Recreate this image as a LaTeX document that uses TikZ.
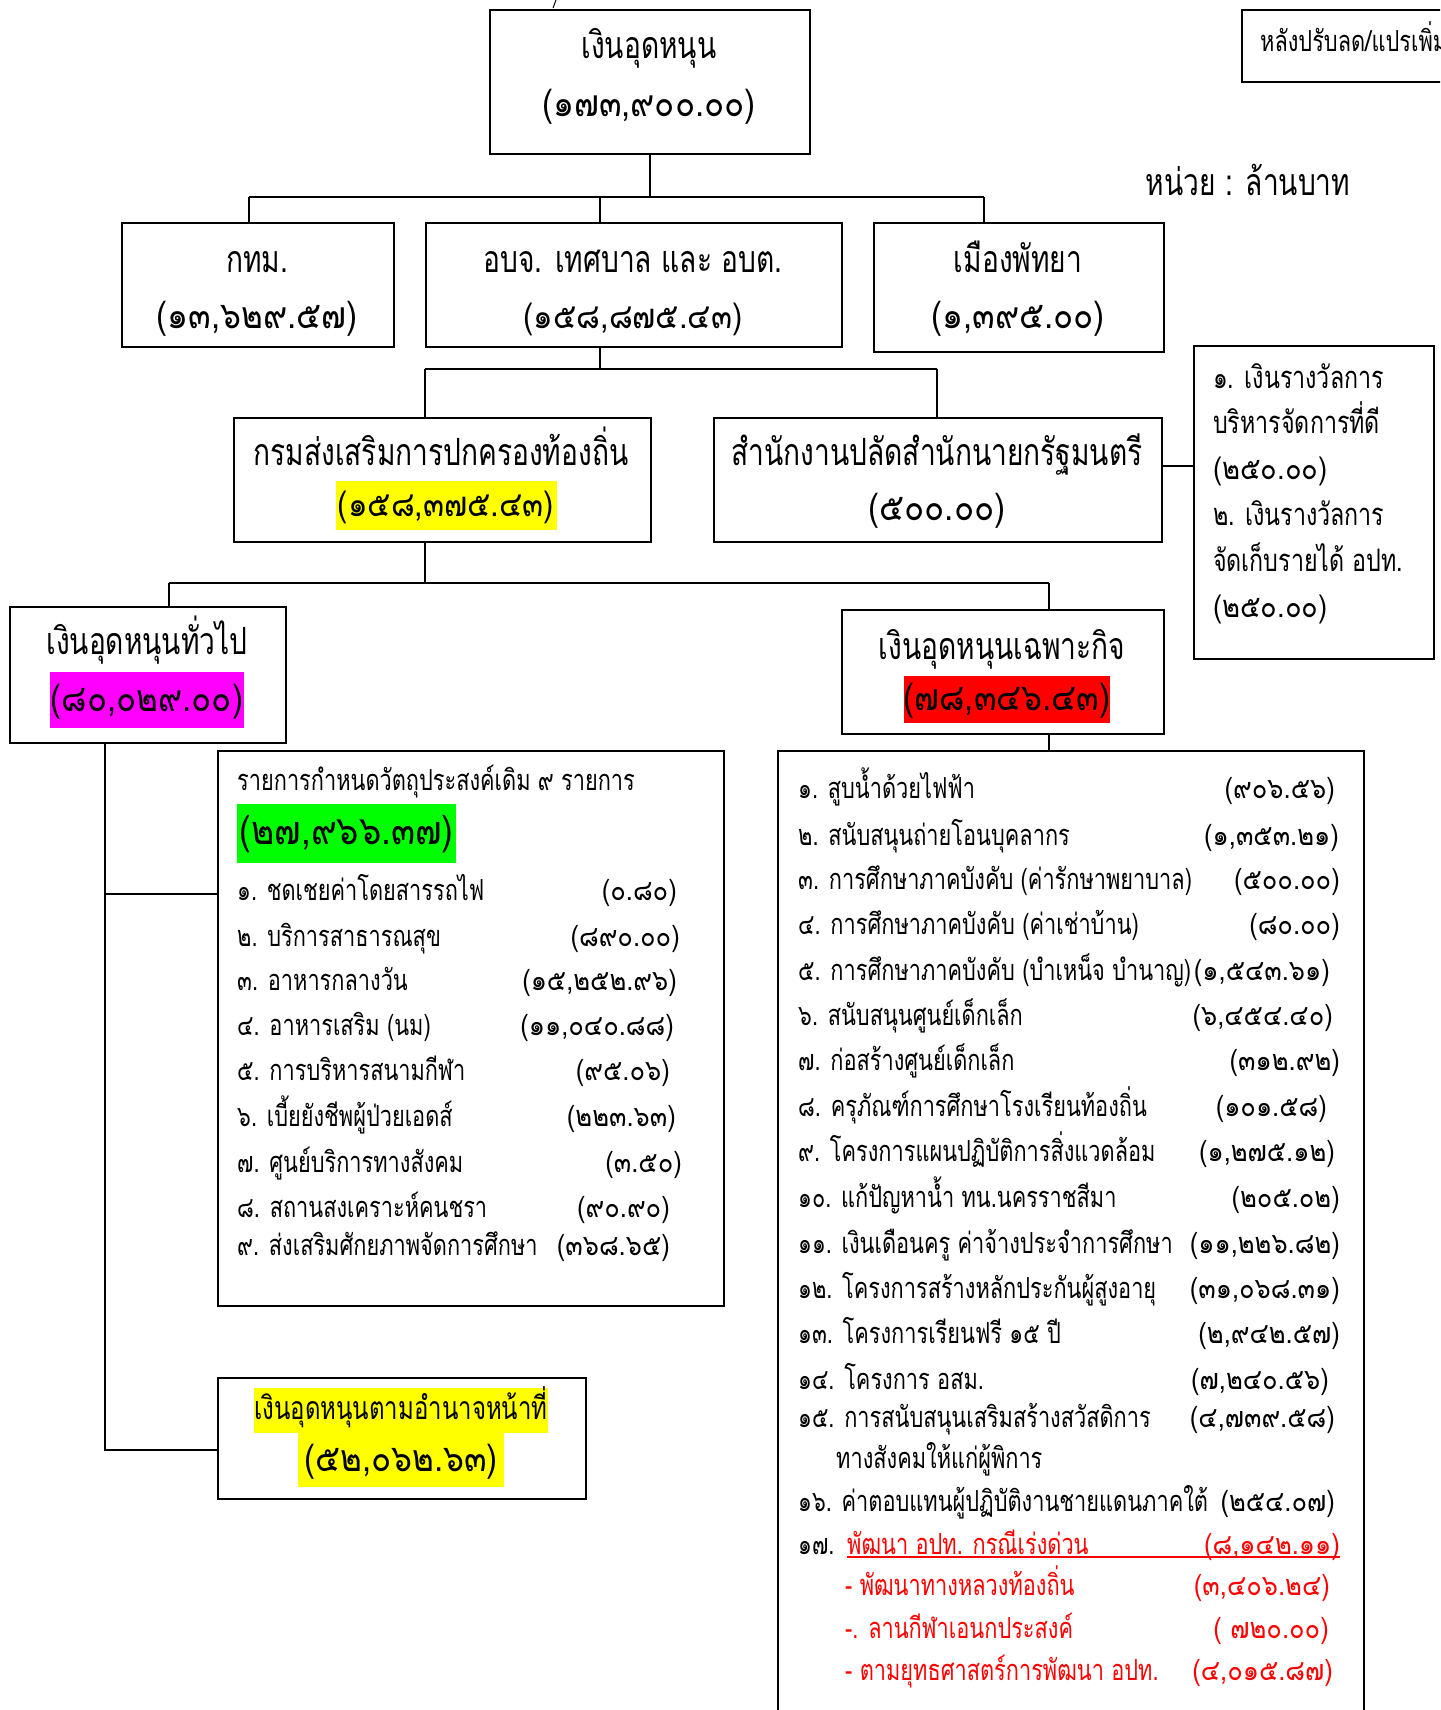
\documentclass[tikz,border=0pt]{standalone}
\usepackage{fontspec}
\newfontfamily\thai[Script=Thai,FakeStretch=0.75]{Loma}
\newfontfamily\thainum[Script=Thai,FakeStretch=0.88]{Loma}
\definecolor{hlyellow}{HTML}{FFFF00}
\definecolor{hlmagenta}{HTML}{FF00FF}
\definecolor{hlgreen}{HTML}{00FF00}
\definecolor{hlred}{HTML}{FF0000}
\definecolor{txtred}{HTML}{FF0000}
\begin{document}
\begin{tikzpicture}[x=1pt,y=-1pt,
  box/.style={draw, line width=1.8pt, inner sep=0pt, anchor=north west},
  hd/.style={font=\thai\fontsize{37.5}{42}\selectfont, inner sep=0pt, text height=22pt, text depth=0pt},
  hn/.style={font=\thainum\fontsize{37.5}{42}\selectfont, inner sep=0pt, text height=22pt, text depth=0pt},
  it/.style={font=\thai\fontsize{29}{32}\selectfont, inner sep=0pt, text height=19pt, text depth=0pt},
  inum/.style={font=\thainum\fontsize{29}{32}\selectfont, inner sep=0pt, text height=19pt, text depth=0pt},
  itl/.style={it, anchor=west},
  itr/.style={inum, anchor=east},
  sdl/.style={it, anchor=west, font=\thai\fontsize{31}{34}\selectfont},
  sdn/.style={inum, anchor=west, font=\thainum\fontsize{31}{34}\selectfont},
  rd/.style={text=txtred},
  ln/.style={line width=1.6pt},
]
\useasboundingbox (0,0) rectangle (1440,1710);
\clip (0,0) rectangle (1440,1710);

% ---------- boxes ----------
\node[box, minimum width=320, minimum height=144] (top) at (489,9) {};
\node[box, minimum width=229, minimum height=72] (tr) at (1241,9) {};
\node[box, minimum width=272, minimum height=124] (kt) at (121,222) {};
\node[box, minimum width=416, minimum height=124] (ob) at (425,222) {};
\node[box, minimum width=290, minimum height=129] (mp) at (873,222) {};
\node[box, minimum width=417, minimum height=124] (dl) at (233,417) {};
\node[box, minimum width=448, minimum height=124] (op) at (713,417) {};
\node[box, minimum width=240, minimum height=313] (sd) at (1193,345) {};
\node[box, minimum width=276, minimum height=136] (gg) at (9,606) {};
\node[box, minimum width=322, minimum height=124] (sp) at (841,609) {};
\node[box, minimum width=506, minimum height=555] (lb) at (217,750) {};
\node[box, minimum width=368, minimum height=121] (am) at (217,1377) {};
\node[box, minimum width=586, minimum height=1010] (rb) at (777,750) {};

% ---------- connectors ----------
\coordinate (tick) at (553,8);
\coordinate (tick0) at (556,0);
\draw[line width=1pt] (tick0) -- (tick);

\coordinate (h1L) at (249,197);
\coordinate (h1M) at (600,197);
\coordinate (h1R) at (984,197);
\draw[ln] (top.south) -- (top.south |- h1L);
\draw[ln] (h1L) -- (h1R);
\draw[ln] (h1L) -- (h1L |- kt.north);
\draw[ln] (h1M) -- (h1M |- ob.north);
\draw[ln] (h1R) -- (h1R |- mp.north);

\coordinate (h2L) at (425,369);
\coordinate (h2M) at (600,369);
\coordinate (h2R) at (937,369);
\draw[ln] (h2M |- ob.south) -- (h2M);
\draw[ln] (h2L) -- (h2R);
\draw[ln] (h2L) -- (h2L |- dl.north);
\draw[ln] (h2R) -- (h2R |- op.north);

\coordinate (c3) at (1177,466);
\draw[ln] (c3 -| op.east) -- (c3 -| sd.west);

\coordinate (h4L) at (169,583);
\coordinate (h4M) at (425,583);
\coordinate (h4R) at (1049,583);
\draw[ln] (h4M |- dl.south) -- (h4M);
\draw[ln] (h4L) -- (h4R);
\draw[ln] (h4L) -- (h4L |- gg.north);
\draw[ln] (h4R) -- (h4R |- sp.north);

\coordinate (b1) at (105,894);
\coordinate (b2) at (105,1450);
\draw[ln] (b1 |- gg.south) -- (b2) -- (b2 -| am.west);
\draw[ln] (b1) -- (b1 -| lb.west);

\coordinate (c6) at (1049,740);
\draw[ln] (c6 |- sp.south) -- (c6 |- rb.north);

% ---------- texts: upper part ----------
\node[hd] (t1a) at (649,48) {เงินอุดหนุน};
\node[hn] (t1b) at (649,105) {(๑๗๓,๙๐๐.๐๐)};
\node[itl] (tra) at (1260,42) {หลังปรับลด/แปรเพิ่ม};
\node[hd] (unit) at (1248,184) {หน่วย : ล้านบาท};

\node[hd] (kta) at (257,261) {กทม.};
\node[hn] (ktb) at (257,317) {(๑๓,๖๒๙.๕๗)};
\node[hd] (oba) at (633,261) {อบจ. เทศบาล และ อบต.};
\node[hn, font=\thainum\fontsize{35}{40}\selectfont] (obb) at (633,317) {(๑๕๘,๘๗๕.๔๓)};
\node[hd] (mpa) at (1018,261) {เมืองพัทยา};
\node[hn] (mpb) at (1018,317) {(๑,๓๙๕.๐๐)};

\node[hd] (dla) at (441,454) {กรมส่งเสริมการปกครองท้องถิ่น};
\node[hn, font=\thainum\fontsize{35}{40}\selectfont, fill=hlyellow, minimum width=221, minimum height=49] (dlb) at (446,505) {(๑๕๘,๓๗๕.๔๓)};
\node[hd] (opa) at (937,454) {สำนักงานปลัดสำนักนายกรัฐมนตรี};
\node[hn] (opb) at (937,509) {(๕๐๐.๐๐)};

\node[sdl] (sd1) at (1213,379) {๑. เงินรางวัลการ};
\node[sdl] (sd2) at (1213,424) {บริหารจัดการที่ดี};
\node[sdn] (sd3) at (1213,470) {(๒๕๐.๐๐)};
\node[sdl] (sd4) at (1213,516) {๒. เงินรางวัลการ};
\node[sdl] (sd5) at (1213,562) {จัดเก็บรายได้ อปท.};
\node[sdn] (sd6) at (1213,608) {(๒๕๐.๐๐)};

\node[hd] (gga) at (147,643) {เงินอุดหนุนทั่วไป};
\node[hn, fill=hlmagenta, minimum width=194, minimum height=56] (ggb) at (147,700) {(๘๐,๐๒๙.๐๐)};
\node[hd] (spa) at (1002,648) {เงินอุดหนุนเฉพาะกิจ};
\node[hn, fill=hlred, minimum width=200, minimum height=47] (spb) at (1007,699) {(๗๘,๓๔๖.๔๓)};

% ---------- left list ----------
\node[itl] (lbh) at (237,781) {รายการกำหนดวัตถุประสงค์เดิม ๙ รายการ};
\node[hn, font=\thainum\fontsize{40}{44}\selectfont, fill=hlgreen, anchor=west, minimum width=219, minimum height=59] (lbg) at (237,833) {(๒๗,๙๖๖.๓๗)};
\node[itl] (l1) at (237,891) {๑. ชดเชยค่าโดยสารรถไฟ};
\node[itr] (l1v) at (677,891) {(๐.๘๐)};
\node[itl] (l2) at (237,937) {๒. บริการสาธารณสุข};
\node[itr] (l2v) at (680,937) {(๘๙๐.๐๐)};
\node[itl] (l3) at (237,981) {๓. อาหารกลางวัน};
\node[itr] (l3v) at (677,981) {(๑๕,๒๕๒.๙๖)};
\node[itl] (l4) at (237,1026) {๔. อาหารเสริม (นม)};
\node[itr] (l4v) at (674,1026) {(๑๑,๐๔๐.๘๘)};
\node[itl] (l5) at (237,1071) {๕. การบริหารสนามกีฬา};
\node[itr] (l5v) at (670,1071) {(๙๕.๐๖)};
\node[itl] (l6) at (237,1117) {๖. เบี้ยยังชีพผู้ป่วยเอดส์};
\node[itr] (l6v) at (676,1117) {(๒๒๓.๖๓)};
\node[itl] (l7) at (237,1163) {๗. ศูนย์บริการทางสังคม};
\node[itr] (l7v) at (682,1163) {(๓.๕๐)};
\node[itl] (l8) at (237,1208) {๘. สถานสงเคราะห์คนชรา};
\node[itr] (l8v) at (670,1208) {(๙๐.๙๐)};
\node[itl] (l9) at (237,1246) {๙. ส่งเสริมศักยภาพจัดการศึกษา};
\node[itr] (l9v) at (670,1246) {(๓๖๘.๖๕)};

\node[hd, fill=hlyellow, minimum width=290, minimum height=45, font=\thai\fontsize{32}{36}\selectfont, text height=19pt] (ama) at (401,1410) {เงินอุดหนุนตามอำนาจหน้าที่};
\node[hn, fill=hlyellow, minimum width=206, minimum height=54] (amb) at (401,1460) {(๕๒,๐๖๒.๖๓)};

% ---------- right list ----------
\node[itl] (r1) at (798,789) {๑. สูบน้ำด้วยไฟฟ้า};
\node[itr] (r1v) at (1335,789) {(๙๐๖.๕๖)};
\node[itl] (r2) at (798,836) {๒. สนับสนุนถ่ายโอนบุคลากร};
\node[itr] (r2v) at (1339,836) {(๑,๓๕๓.๒๑)};
\node[itl] (r3) at (798,880) {๓. การศึกษาภาคบังคับ (ค่ารักษาพยาบาล)};
\node[itr] (r3v) at (1340,880) {(๕๐๐.๐๐)};
\node[itl] (r4) at (798,925) {๔. การศึกษาภาคบังคับ (ค่าเช่าบ้าน)};
\node[itr] (r4v) at (1340,925) {(๘๐.๐๐)};
\node[itl] (r5) at (798,971) {๕. การศึกษาภาคบังคับ (บำเหน็จ บำนาญ)};
\node[itr] (r5v) at (1330,971) {(๑,๕๔๓.๖๑)};
\node[itl] (r6) at (798,1016) {๖. สนับสนุนศูนย์เด็กเล็ก};
\node[itr] (r6v) at (1333,1016) {(๖,๔๕๔.๔๐)};
\node[itl] (r7) at (798,1061) {๗. ก่อสร้างศูนย์เด็กเล็ก};
\node[itr] (r7v) at (1340,1061) {(๓๑๒.๙๒)};
\node[itl] (r8) at (798,1107) {๘. ครุภัณฑ์การศึกษาโรงเรียนท้องถิ่น};
\node[itr] (r8v) at (1327,1107) {(๑๐๑.๕๘)};
\node[itl] (r9) at (798,1152) {๙. โครงการแผนปฏิบัติการสิ่งแวดล้อม};
\node[itr] (r9v) at (1335,1152) {(๑,๒๗๕.๑๒)};
\node[itl] (r10) at (798,1198) {๑๐. แก้ปัญหาน้ำ ทน.นครราชสีมา};
\node[itr] (r10v) at (1340,1198) {(๒๐๕.๐๒)};
\node[itl] (r11) at (798,1244) {๑๑. เงินเดือนครู ค่าจ้างประจำการศึกษา};
\node[itr] (r11v) at (1340,1244) {(๑๑,๒๒๖.๘๒)};
\node[itl] (r12) at (798,1289) {๑๒. โครงการสร้างหลักประกันผู้สูงอายุ};
\node[itr] (r12v) at (1340,1289) {(๓๑,๐๖๘.๓๑)};
\node[itl] (r13) at (798,1334) {๑๓. โครงการเรียนฟรี ๑๕ ปี};
\node[itr] (r13v) at (1340,1334) {(๒,๙๔๒.๕๗)};
\node[itl] (r14) at (798,1380) {๑๔. โครงการ อสม.};
\node[itr] (r14v) at (1329,1380) {(๗,๒๔๐.๕๖)};
\node[itl] (r15) at (798,1418) {๑๕. การสนับสนุนเสริมสร้างสวัสดิการ};
\node[itr] (r15v) at (1335,1418) {(๔,๗๓๙.๕๘)};
\node[itl] (r15b) at (836,1459) {ทางสังคมให้แก่ผู้พิการ};
\node[itl] (r16) at (798,1502) {๑๖. ค่าตอบแทนผู้ปฏิบัติงานชายแดนภาคใต้};
\node[itr] (r16v) at (1335,1502) {(๒๕๔.๐๗)};
\node[itl] (r17n) at (798,1545) {๑๗.};
\node[itl, rd] (r17) at (847,1545) {พัฒนา อปท. กรณีเร่งด่วน};
\node[itr, rd] (r17v) at (1340,1545) {(๘,๑๔๒.๑๑)};
\draw[line width=1.5pt, txtred] (r17.west |- 0,1557) -- (r17v.east |- 0,1557);
\node[itl, rd] (s1) at (845,1586) {- พัฒนาทางหลวงท้องถิ่น};
\node[itr, rd] (s1v) at (1330,1586) {(๓,๔๐๖.๒๔)};
\node[itl, rd] (s2) at (845,1629) {-. ลานกีฬาเอนกประสงค์};
\node[itr, rd] (s2v) at (1329,1629) {( ๗๒๐.๐๐)};
\node[itl, rd] (s3) at (845,1671) {- ตามยุทธศาสตร์การพัฒนา อปท.};
\node[itr, rd] (s3v) at (1333,1671) {(๔,๐๑๕.๘๗)};
\end{tikzpicture}
\end{document}
